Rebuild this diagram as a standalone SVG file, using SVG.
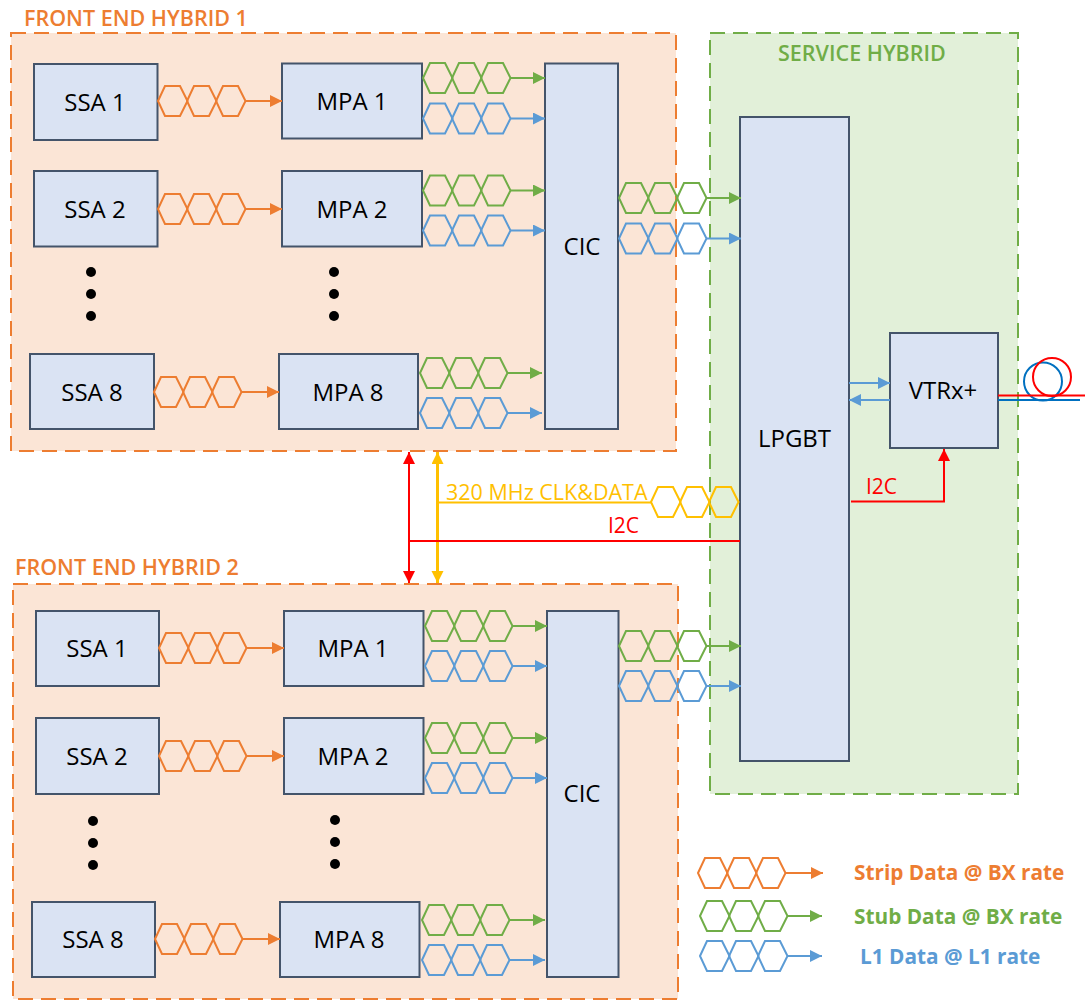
<svg xmlns="http://www.w3.org/2000/svg" xmlns:xlink="http://www.w3.org/1999/xlink" width="1085" height="1000" viewBox="0 0 1085 1000">
<style>
text{font-family:"Open Sans","Noto Sans","Liberation Sans",sans-serif}
.box{fill:#DAE3F3;stroke:#44546A;stroke-width:2}
.lbl{font-size:24px;fill:#000;text-anchor:middle}
.ttl{font-size:21.500px;font-weight:600}
.leg{font-size:20.800px;font-weight:700}
.pnl{stroke-width:2;stroke-dasharray:15 8}
.hx{fill:none;stroke-width:2}
.ln{fill:none;stroke-width:2}
.o{stroke:#ED7D31}.g{stroke:#70AD47}.b{stroke:#5B9BD5}.y{stroke:#FFC000}.r{stroke:#FF0000}
.to{fill:#ED7D31}.tg{fill:#70AD47}.tb{fill:#5B9BD5}.ty{fill:#FFC000}.tr{fill:#FF0000}
.ao{marker-end:url(#mo)}.ag{marker-end:url(#mg)}.ab{marker-end:url(#mb)}.ar{marker-end:url(#mr)}
</style>
<defs>
<g id="hex"><path d="M0 0L7-15H22L29.500 0L22 15H7Z"/><path d="M29 0L36-15H51L58.500 0L51 15H36Z"/><path d="M58 0L65-15H80L87.500 0L80 15H65Z"/></g>
<marker id="mo" markerUnits="userSpaceOnUse" markerWidth="12" markerHeight="14" refX="12" refY="6" orient="auto-start-reverse"><path d="M0 0L12 6L0 12Z" fill="#ED7D31"/></marker>
<marker id="mg" markerUnits="userSpaceOnUse" markerWidth="12" markerHeight="14" refX="12" refY="6" orient="auto-start-reverse"><path d="M0 0L12 6L0 12Z" fill="#70AD47"/></marker>
<marker id="mb" markerUnits="userSpaceOnUse" markerWidth="12" markerHeight="14" refX="12" refY="6" orient="auto-start-reverse"><path d="M0 0L12 6L0 12Z" fill="#5B9BD5"/></marker>
<marker id="mr" markerUnits="userSpaceOnUse" markerWidth="12" markerHeight="14" refX="12" refY="6" orient="auto-start-reverse"><path d="M0 0L12 6L0 12Z" fill="#FF0000"/></marker>
<marker id="my" markerUnits="userSpaceOnUse" markerWidth="12" markerHeight="14" refX="12" refY="6" orient="auto-start-reverse"><path d="M0 0L12 6L0 12Z" fill="#FFC000"/></marker>
</defs>
<rect width="1085" height="1000" fill="#fff"/>
<g id="fe1-panel"><rect class="pnl o" x="11" y="33" width="665" height="418" fill="#FBE5D6"/><text class="ttl to" x="24" y="26">FRONT END HYBRID 1</text></g>
<g id="fe2-panel"><rect class="pnl o" x="13" y="584" width="665" height="415" fill="#FBE5D6"/><text class="ttl to" x="15" y="575">FRONT END HYBRID 2</text></g>
<g id="service-panel"><rect class="pnl g" x="710" y="33" width="308" height="761" fill="#E2F0D9"/><text class="ttl tg" x="778" y="61">SERVICE HYBRID</text></g>
<g id="fe1-ssa1"><rect class="box" x="34" y="64" width="123.500" height="76"/><text class="lbl" x="95" y="111">SSA 1</text></g>
<g id="fe1-mpa1"><rect class="box" x="282" y="63.500" width="140" height="75"/><text class="lbl" x="352" y="110">MPA 1</text></g>
<g id="fe1-ssa2"><rect class="box" x="34" y="171" width="123.500" height="75.500"/><text class="lbl" x="95" y="218">SSA 2</text></g>
<g id="fe1-mpa2"><rect class="box" x="282" y="171" width="140" height="75.500"/><text class="lbl" x="352" y="218">MPA 2</text></g>
<g id="fe1-ssa8"><rect class="box" x="30" y="354" width="124" height="75"/><text class="lbl" x="92" y="401">SSA 8</text></g>
<g id="fe1-mpa8"><rect class="box" x="279" y="354" width="139" height="75"/><text class="lbl" x="348" y="401">MPA 8</text></g>
<g id="fe1-cic"><rect class="box" x="545" y="63.500" width="73" height="365.500"/><text class="lbl" x="582" y="255">CIC</text></g>
<g id="fe2-ssa1"><rect class="box" x="36" y="611" width="123" height="75"/><text class="lbl" x="97" y="657">SSA 1</text></g>
<g id="fe2-mpa1"><rect class="box" x="284" y="611" width="139.500" height="75"/><text class="lbl" x="353" y="657">MPA 1</text></g>
<g id="fe2-ssa2"><rect class="box" x="36" y="718" width="123" height="76"/><text class="lbl" x="97" y="765">SSA 2</text></g>
<g id="fe2-mpa2"><rect class="box" x="284" y="718" width="139.500" height="76"/><text class="lbl" x="353" y="765">MPA 2</text></g>
<g id="fe2-ssa8"><rect class="box" x="32" y="902" width="123" height="75"/><text class="lbl" x="93" y="948">SSA 8</text></g>
<g id="fe2-mpa8"><rect class="box" x="280" y="902" width="139.500" height="75"/><text class="lbl" x="349" y="948">MPA 8</text></g>
<g id="fe2-cic"><rect class="box" x="547" y="611" width="71.500" height="366"/><text class="lbl" x="582" y="802">CIC</text></g>
<g id="lpgbt"><rect class="box" x="740" y="117" width="109" height="644"/><text class="lbl" x="794.500" y="447">LPGBT</text></g>
<g id="vtrx"><rect class="box" x="890" y="333" width="108" height="115"/><text class="lbl" x="943" y="399">VTRx+</text></g>
<g id="ellipses" fill="#000">
<circle cx="91" cy="272" r="5"/><circle cx="91" cy="294" r="5"/><circle cx="91" cy="316" r="5"/>
<circle cx="334" cy="272" r="5"/><circle cx="334" cy="294" r="5"/><circle cx="334" cy="316" r="5"/>
<circle cx="93" cy="821" r="5"/><circle cx="93" cy="843" r="5"/><circle cx="93" cy="865" r="5"/>
<circle cx="335" cy="820" r="5"/><circle cx="335" cy="842" r="5"/><circle cx="335" cy="864" r="5"/>
</g>
<g id="connectors">
<g class="hx o">
<use href="#hex" x="158" y="101"/><use href="#hex" x="158" y="209"/><use href="#hex" x="154" y="392"/>
<use href="#hex" x="159" y="648"/><use href="#hex" x="159" y="756"/><use href="#hex" x="155" y="939"/>
<use href="#hex" x="698" y="873"/>
</g>
<g class="ln o">
<path class="ao" d="M245 101H282"/><path class="ao" d="M245 209H282"/><path class="ao" d="M241 392H279"/>
<path class="ao" d="M246 648H284"/><path class="ao" d="M246 756H284"/><path class="ao" d="M242 939H280"/>
<path class="ao" d="M785 873H823"/>
</g>
<g class="hx g">
<use href="#hex" x="423" y="78"/><use href="#hex" x="423" y="190.500"/><use href="#hex" x="420" y="373"/>
<use href="#hex" x="619" y="198"/>
<use href="#hex" x="425" y="626"/><use href="#hex" x="425" y="738"/><use href="#hex" x="422" y="920"/>
<use href="#hex" x="619" y="646"/>
<use href="#hex" x="700" y="916"/>
</g>
<g class="ln g">
<path class="ag" d="M510 78H545"/><path class="ag" d="M510 190.500H545"/><path class="ag" d="M507 373H542"/>
<path class="ag" d="M706 198H741"/>
<path class="ag" d="M512 626H547"/><path class="ag" d="M512 738H547"/><path class="ag" d="M509 920H545"/>
<path class="ag" d="M706 646H741"/>
<path class="ag" d="M787 916H822"/>
</g>
<g class="hx b">
<use href="#hex" x="423" y="118.500"/><use href="#hex" x="423" y="230.500"/><use href="#hex" x="420" y="413"/>
<use href="#hex" x="619" y="238.500"/>
<use href="#hex" x="425" y="666"/><use href="#hex" x="425" y="778"/><use href="#hex" x="422" y="960"/>
<use href="#hex" x="619" y="686"/>
<use href="#hex" x="700" y="956"/>
</g>
<g class="ln b">
<path class="ab" d="M510 118.500H545"/><path class="ab" d="M510 230.500H545"/><path class="ab" d="M507 413H542"/>
<path class="ab" d="M706 238.500H741"/>
<path class="ab" d="M512 666H547"/><path class="ab" d="M512 778H547"/><path class="ab" d="M509 960H545"/>
<path class="ab" d="M706 686H741"/>
<path class="ab" d="M787 956H822"/>
<path class="ab" d="M849 383H890"/><path class="ab" d="M890 400H849"/>
</g>
<g class="hx y"><use href="#hex" x="651" y="502"/></g>
<path class="ln y" d="M438 502.500H651"/>
<path class="ln y" d="M437.500 452V583" style="stroke-width:3;marker-start:url(#my);marker-end:url(#my)"/>
<path class="ln r" d="M409 541H740"/>
<path class="ln r" d="M409 452V583" style="marker-start:url(#mr);marker-end:url(#mr)"/>
<path class="ln r ar" d="M851 501.500H944V449"/>
<path class="ln b" style="stroke:#0070C0" d="M998 400H1080"/>
<circle class="ln" style="stroke:#0070C0" cx="1043" cy="381.500" r="19"/>
<path class="ln r" d="M998 395.500H1085"/>
<circle class="ln r" cx="1052" cy="377" r="19"/>
</g>
<g id="labels">
<text class="tr" font-size="21" x="608" y="533">I2C</text>
<text class="tr" font-size="21" x="866" y="494">I2C</text>
<text class="ty" font-size="21.500" x="446" y="500">320 MHz CLK&amp;DATA</text>
<text class="leg to" x="854" y="880">Strip Data @ BX rate</text>
<text class="leg tg" x="854" y="924">Stub Data @ BX rate</text>
<text class="leg tb" x="860" y="964">L1 Data @ L1 rate</text>
</g>
</svg>
